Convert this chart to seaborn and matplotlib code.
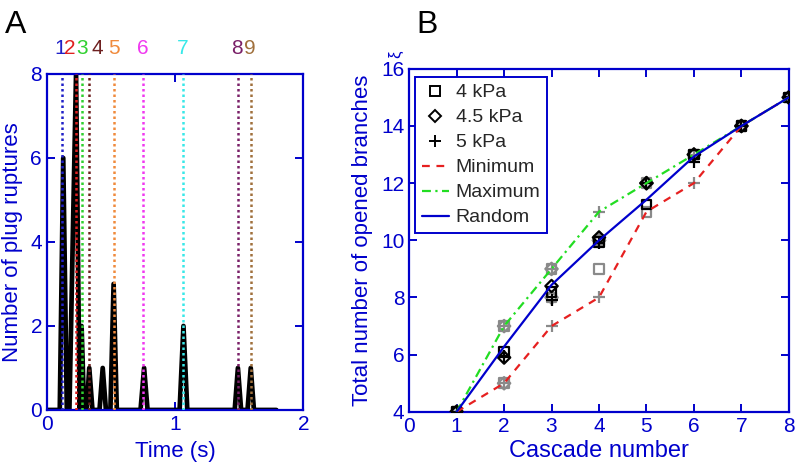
import matplotlib
matplotlib.use("Agg")
import matplotlib.pyplot as plt
from matplotlib.lines import Line2D
import numpy as np
import pandas as pd
import seaborn as sns

# ---------------- data: panel A ----------------
curve_t = [0.0, 0.10, 0.127, 0.155, 0.175, 0.227, 0.255, 0.27, 0.29, 0.31, 0.33, 0.355,
           0.41, 0.435, 0.46, 0.495, 0.52, 0.545, 0.73, 0.758, 0.785, 1.035, 1.065, 1.095,
           1.465, 1.49, 1.515, 1.565, 1.59, 1.615, 1.79]
curve_n = [0, 0, 6, 0, 0, 8, 0, 2, 0, 0, 1, 0,
           0, 1, 0, 0, 3, 0, 0, 1, 0, 0, 2, 0,
           0, 1, 0, 0, 1, 0, 0]
cascade_times = [0.12, 0.227, 0.276, 0.33, 0.525, 0.75, 1.065, 1.49, 1.59]
cascade_labels = ["1", "2", "3", "4", "5", "6", "7", "8", "9"]
label_x = [0.10, 0.18, 0.27, 0.39, 0.52, 0.75, 1.06, 1.48, 1.58]
cascade_colors = ["#2020c8", "#e02020", "#30d030", "#6e2020", "#f08a3c",
                  "#f038f0", "#38e8e8", "#7a2068", "#a0703c"]

# ---------------- data: panel B ----------------
cascade = [1, 2, 3, 4, 5, 6, 7, 8]
mean_4 = [4, 6.1, 8.2, 9.95, 11.25, 13.0, 14, 15]
mean_45 = [4, 5.9, 8.4, 10.1, 12.0, 13.0, 14, 15]
mean_5 = [4, 5.95, 7.9, 9.9, 12.0, 12.75, 14, 15]
min_4 = [4, 5, 8, 9, 11, 13, 14, 15]
max_4 = [4, 7, 9, 10, 12, 13, 14, 15]
min_45 = [4, 5, 8, 10, 12, 13, 14, 15]
max_45 = [4, 7, 9, 10, 12, 13, 14, 15]
min_5 = [4, 5, 7, 8, 12, 12, 14, 15]
max_5 = [4, 7, 9, 11, 12, 13, 14, 15]
minimum = [4, 5, 7, 8, 11, 12, 14, 15]
maximum = [4, 7, 9, 11, 12, 13, 14, 15]
random_ = [4, 6.28, 8.44, 10.0, 11.42, 12.93, 14, 15]

sns.set_style("white")
plt.rcParams["font.family"] = ["Liberation Sans", "DejaVu Sans"]
plt.rcParams["mathtext.fontset"] = "dejavusans"

BLUE = "#0000cc"
fig = plt.figure(figsize=(7.96, 4.68), dpi=100)

def style_axes(ax):
    for s in ax.spines.values():
        s.set_color(BLUE)
        s.set_linewidth(1.6)
        s.set_visible(True)
    ax.tick_params(direction="in", length=5.5, width=1.4, color=BLUE, labelcolor=BLUE,
                   labelsize=15, top=True, right=True, bottom=True, left=True, pad=3.5)

# ---------------- panel A ----------------
axA = fig.add_axes([0.059, 0.124, 0.322, 0.718])
dfA = pd.DataFrame({"t": curve_t, "n": curve_n})
sns.lineplot(data=dfA, x="t", y="n", ax=axA, color="black", linewidth=3.4,
             estimator=None, sort=False, zorder=2)
for t, c in zip(cascade_times, cascade_colors):
    dfv = pd.DataFrame({"t": [t, t], "n": [0, 8]})
    sns.lineplot(data=dfv, x="t", y="n", ax=axA, color=c, linewidth=1.8,
                 linestyle=(0, (1, 1.2)), estimator=None, zorder=3)
for lx, lab, c in zip(label_x, cascade_labels, cascade_colors):
    axA.text(lx, 8.6, lab, color=c, fontsize=15, ha="center", va="center", clip_on=False)
axA.set_xlim(0, 2)
axA.set_ylim(0, 8)
axA.set_xticks([0, 1, 2])
axA.set_yticks([0, 2, 4, 6, 8])
style_axes(axA)
axA.set_xlabel("Time (s)", color=BLUE, fontsize=16, labelpad=5)
axA.set_ylabel("Number of plug ruptures", color=BLUE, fontsize=16, labelpad=5)
fig.text(0.006, 0.946, "A", fontsize=23, color="black", ha="left", va="center")

# ---------------- panel B ----------------
axB = fig.add_axes([0.514, 0.120, 0.477, 0.733])
GRAY = "#8a8a8a"
groups = [("s", min_4, max_4, mean_4), ("D", min_45, max_45, mean_45), ("+", min_5, max_5, mean_5)]
for mk, mn, mx, me in groups:
    for vals in (mn, mx):
        dfm = pd.DataFrame({"c": cascade, "v": vals})
        if mk == "+":
            sns.scatterplot(data=dfm, x="c", y="v", ax=axB, marker="+", color=GRAY,
                            s=70, linewidth=1.6, zorder=2)
        else:
            sns.scatterplot(data=dfm, x="c", y="v", ax=axB, marker=mk, facecolor="none",
                            edgecolor=GRAY, s=48 if mk == "s" else 40, linewidth=1.6, zorder=2)
for mk, mn, mx, me in groups:
    dfm = pd.DataFrame({"c": cascade, "v": me})
    if mk == "+":
        sns.scatterplot(data=dfm, x="c", y="v", ax=axB, marker="+", color="black",
                        s=70, linewidth=1.6, zorder=3)
    else:
        sns.scatterplot(data=dfm, x="c", y="v", ax=axB, marker=mk, facecolor="none",
                        edgecolor="black", s=48 if mk == "s" else 40, linewidth=1.6, zorder=3)

lines_spec = [(minimum, "#e62020", (0, (3.5, 3))), (maximum, "#22dd22", (0, (4, 2, 1, 2))),
              (random_, BLUE, "-")]
for vals, col, ls in lines_spec:
    dfl = pd.DataFrame({"c": cascade, "v": vals})
    sns.lineplot(data=dfl, x="c", y="v", ax=axB, color=col, linewidth=1.6,
                 linestyle=ls, estimator=None, zorder=4)

axB.set_xlim(0, 8)
axB.set_ylim(4, 16)
axB.set_xticks(range(0, 9))
axB.set_yticks([4, 6, 8, 10, 12, 14, 16])
style_axes(axB)
axB.set_xlabel("Cascade number", color=BLUE, fontsize=17, labelpad=3)
axB.set_ylabel("Total number of opened branches", color=BLUE, fontsize=16, labelpad=6)
fig.text(0.4975, 0.885, "ξ", color=BLUE, fontsize=12, rotation=90, ha="center", va="center")
fig.text(0.523, 0.946, "B", fontsize=23, color="black", ha="left", va="center")

handles = [
    Line2D([], [], marker="s", color="black", markerfacecolor="none", linestyle="none",
           markersize=7, markeredgewidth=1.4),
    Line2D([], [], marker="D", color="black", markerfacecolor="none", linestyle="none",
           markersize=6.5, markeredgewidth=1.4),
    Line2D([], [], marker="+", color="black", linestyle="none", markersize=9,
           markeredgewidth=1.4),
    Line2D([], [], color="#e62020", linestyle=(0, (3.5, 3)), linewidth=1.6),
    Line2D([], [], color="#22dd22", linestyle=(0, (4, 2, 1, 2)), linewidth=1.6),
    Line2D([], [], color=BLUE, linestyle="-", linewidth=1.6),
]
labels = ["4 kPa", "4.5 kPa", "5 kPa", "Minimum", "Maximum", "Random"]
leg = axB.legend(handles, labels, loc="upper left",
                 bbox_to_anchor=(415 / 796, 1 - 77 / 468), bbox_transform=fig.transFigure,
                 fontsize=14, frameon=True, fancybox=False, framealpha=1,
                 handlelength=1.4, handletextpad=0.35, labelspacing=0.38,
                 borderpad=0.35, borderaxespad=0)
leg.get_frame().set_edgecolor(BLUE)
leg.get_frame().set_linewidth(1.4)

fig.savefig("out.png", dpi=100)
